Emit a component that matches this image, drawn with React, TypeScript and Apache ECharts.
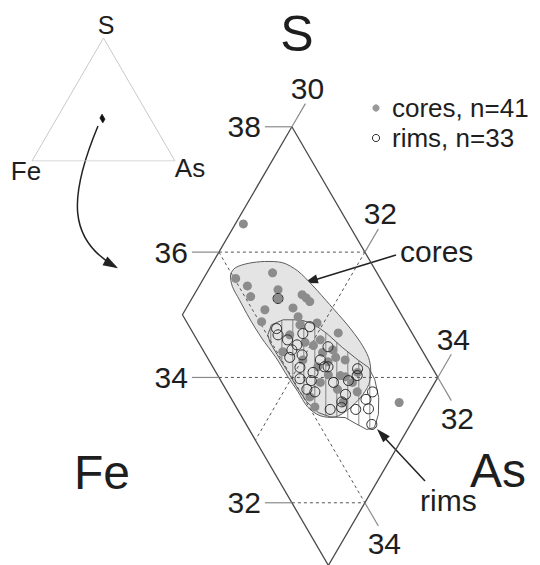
import React, { useEffect, useRef } from "react";
import * as echarts from "echarts";

// ---- Ternary data: [As, S] in at.% (Fe = 100 - As - S) ----
const cores: number[][] = [
  [30.11, 36.45], [30.9, 35.67], [30.44, 35.58], [30.66, 35.46], [31.11, 35.4], [30.79, 35.29],
  [31.18, 35.26], [31.48, 35.32], [31.56, 35.27], [31.64, 35.21], [31.46, 35.11], [31.6, 34.97],
  [31.14, 34.89], [31.91, 34.87], [32.28, 34.71], [32.09, 34.6], [31.9, 34.56], [32.04, 34.51],
  [31.67, 34.41], [32.22, 34.4], [32.01, 34.28], [32.37, 34.25], [32.44, 34.32], [32.27, 34.17],
  [32.65, 34.03], [32.73, 34.01], [32.86, 34.08], [32.43, 33.92], [32.87, 33.92], [33.01, 33.77],
  [32.4, 33.69], [32.9, 33.61], [32.55, 33.53], [33.67, 33.6], [31.63, 34.68], [32.34, 34.44],
  [32.48, 34.04], [31.09, 35.08], [31.69, 34.84], [32.59, 34.28], [32.72, 33.81],
];
const rims: number[][] = [
  [31.18, 35.26], [31.4, 34.78], [31.47, 34.68], [31.8, 34.7], [31.84, 34.81], [32.25, 34.49],
  [31.78, 34.44], [31.96, 34.36], [31.81, 34.32], [32.03, 34.16], [32.12, 33.98], [32.25, 34.08],
  [32.29, 33.95], [32.36, 34.17], [32.41, 34.17], [32.83, 34.14], [32.88, 34.03], [32.8, 33.95],
  [32.61, 33.92], [32.3, 33.81], [32.43, 33.77], [32.87, 33.73], [33.22, 33.77], [32.88, 33.61],
  [33.13, 33.49], [32.78, 33.49], [32.92, 33.52], [33.3, 33.5], [33.47, 33.25], [31.81, 34.52],
  [32.25, 34.28], [33.19, 33.65], [31.64, 34.6],
];
const coresOutline: number[][] = [
  [30.34, 35.64], [30.35, 35.75], [30.49, 35.82], [30.7, 35.85], [30.96, 35.83], [31.23, 35.7],
  [31.56, 35.46], [31.94, 35.16], [32.34, 34.84], [32.66, 34.56], [32.89, 34.32], [33.02, 34.12],
  [33.11, 33.89], [33.1, 33.68], [33.03, 33.49], [32.91, 33.37], [32.69, 33.39], [32.45, 33.53],
  [32.2, 33.77], [31.94, 34.01], [31.62, 34.32], [31.27, 34.63], [30.94, 34.95], [30.66, 35.24],
  [30.46, 35.45],
];
const rimsOutline: number[][] = [
  [31.33, 34.68], [31.3, 34.84], [31.42, 34.92], [31.65, 34.92], [31.86, 34.86], [32.13, 34.7],
  [32.45, 34.48], [32.78, 34.27], [32.97, 34.16], [33.15, 33.97], [33.35, 33.68], [33.48, 33.41],
  [33.53, 33.2], [33.44, 33.17], [33.25, 33.26], [33.05, 33.36], [32.84, 33.37], [32.64, 33.44],
  [32.4, 33.61], [32.14, 33.85], [31.9, 34.09], [31.62, 34.36], [31.42, 34.56],
];
// field shown: As 30-34, Fe 32-35
const diamond: number[][] = [[30, 38], [34, 34], [34, 31], [30, 35], [30, 38]];
const gridLines: number[][][] = [
  [[30, 36], [32, 36]],
  [[31, 34], [34, 34]],
  [[33, 32], [34, 32]],
  [[32, 36], [32, 33]],
  [[30, 36], [34, 32]],
];
const sTicks = [38, 36, 34, 32];
const asTicks = [30, 32, 34];
const feTicks = [32, 34];
const wholeTriangle: number[][] = [[0, 0], [100, 0], [0, 100], [0, 0]];

const SQ = Math.sqrt(3) / 2;
const toXY = (as: number, s: number) => [as + s / 2, s * SQ];
const FONT = "Liberation Sans, Arial, Helvetica, sans-serif";
const TXT = "#1e1e1e";
const TL = 0.37; // tick length (at.%)

function arrowHead(tx: number, ty: number, fx: number, fy: number, len: number, half: number) {
  const dx = tx - fx, dy = ty - fy;
  const L = Math.hypot(dx, dy);
  const ux = dx / L, uy = dy / L;
  const bx = tx - ux * len, by = ty - uy * len;
  return [[tx, ty], [bx - uy * half, by + ux * half], [bx + uy * half, by - ux * half]];
}

function text(str: string, x: number, y: number, size: number, align = "center") {
  return {
    type: "text", x, y, silent: true,
    style: {
      text: str, fontSize: size, fontFamily: FONT, fill: TXT,
      align, textAlign: align, verticalAlign: "middle", textVerticalAlign: "middle",
    },
  };
}

function lineSeries(pts: number[][], style: any, idx = 0, z = 2) {
  return {
    type: "line", data: pts.map((p) => toXY(p[0], p[1])), xAxisIndex: idx, yAxisIndex: idx,
    symbol: "none", silent: true, z, lineStyle: style, animation: false,
  };
}

export default function App() {
  const ref = useRef<HTMLDivElement>(null);
  useEffect(() => {
    if (!ref.current) return;
    const chart = echarts.init(ref.current, undefined, { renderer: "svg" });

    const blob = (outline: number[][], kind: "cores" | "rims") => ({
      type: "custom", coordinateSystem: "cartesian2d", xAxisIndex: 0, yAxisIndex: 0,
      silent: true, z: 1, data: [0],
      renderItem: (_p: any, api: any) => {
        const pts = outline.map(([a, s]) => api.coord(toXY(a, s)));
        const children: any[] = [];
        if (kind === "cores") {
          children.push({
            type: "polygon", shape: { points: pts, smooth: 0.3 },
            style: { fill: "#e4e4e4", stroke: "#5c5c5c", lineWidth: 1 },
          });
        } else {
          const xs = pts.map((p: number[]) => p[0]);
          const minX = Math.min(...xs), maxX = Math.max(...xs);
          for (let x = minX + 3; x < maxX; x += 11) {
            const ys: number[] = [];
            for (let i = 0; i < pts.length; i++) {
              const a = pts[i], b = pts[(i + 1) % pts.length];
              if ((a[0] <= x && b[0] > x) || (b[0] <= x && a[0] > x)) {
                ys.push(a[1] + ((x - a[0]) / (b[0] - a[0])) * (b[1] - a[1]));
              }
            }
            ys.sort((m, n) => m - n);
            for (let k = 0; k + 1 < ys.length; k += 2) {
              children.push({
                type: "line", shape: { x1: x, y1: ys[k], x2: x, y2: ys[k + 1] },
                style: { stroke: "#6a6a6a", lineWidth: 0.8 },
              });
            }
          }
          children.push({
            type: "polygon", shape: { points: pts },
            style: { fill: "none", stroke: "#5c5c5c", lineWidth: 1 },
          });
        }
        return { type: "group", children };
      },
    });

    const tickLabels: any[] = [];
    const tickSeries: any[] = [];
    const tickStyle = { color: "#8a8a8a", width: 1.2 };
    sTicks.forEach((s) => {
      const a0 = Math.max(30, 65 - s);
      tickSeries.push(lineSeries([[a0, s], [a0 - TL, s]], tickStyle));
      tickLabels.push({
        value: toXY(a0 - TL, s),
        label: { formatter: String(s), position: "left", distance: 4 },
      });
    });
    asTicks.forEach((a) => {
      const s0 = 68 - a;
      tickSeries.push(lineSeries([[a, s0], [a, s0 + TL]], tickStyle));
      tickLabels.push({
        value: toXY(a, s0 + TL),
        label: { formatter: String(a), position: "top", distance: 0, offset: [2, 0] },
      });
    });
    feTicks.forEach((f) => {
      const s0 = 66 - f;
      tickSeries.push(lineSeries([[34, s0], [34 + TL, s0 - TL]], tickStyle));
      tickLabels.push({
        value: toXY(34 + TL, s0 - TL),
        label: { formatter: String(f), position: "bottom", distance: 3, offset: [6, 0] },
      });
    });

    const coresArrow = { from: [396, 255], to: [304, 283] };
    const rimsArrow = { from: [425, 481], to: [377, 429] };
    const curve = { x1: 98, y1: 126, cpx1: 68, cpy1: 198, cpx2: 68, cpy2: 240, x2: 116, y2: 267 };

    const option: any = {
      animation: false,
      grid: [
        { left: 0, top: 0, width: 540, height: 565 },
        { left: 32, top: 38, width: 143, height: 123 },
      ],
      xAxis: [
        { type: "value", min: 45.0, max: 52.4, show: false, gridIndex: 0 },
        { type: "value", min: 0, max: 100, show: false, gridIndex: 1 },
      ],
      yAxis: [
        { type: "value", min: 26.853, max: 34.661, show: false, gridIndex: 0 },
        { type: "value", min: 0, max: 100 * SQ, show: false, gridIndex: 1 },
      ],
      series: [
        blob(coresOutline, "cores"),
        blob(rimsOutline, "rims"),
        ...gridLines.map((g) => lineSeries(g, { color: "#555", width: 1, type: [3, 3] })),
        lineSeries(diamond, { color: "#4a4a4a", width: 1.3 }),
        ...tickSeries,
        {
          type: "scatter", name: "cores", data: cores.map((p) => toXY(p[0], p[1])),
          symbolSize: 9, itemStyle: { color: "#8c8c8c", opacity: 1 }, silent: true, z: 3,
        },
        {
          type: "scatter", name: "rims", data: rims.map((p) => toXY(p[0], p[1])),
          symbolSize: 10,
          itemStyle: { color: "rgba(255,255,255,0)", borderColor: "#2a2a2a", borderWidth: 1, opacity: 1 },
          silent: true, z: 4,
        },
        {
          type: "scatter", data: tickLabels, symbolSize: 0, silent: true, z: 5,
          itemStyle: { opacity: 1 },
          label: { show: true, fontSize: 30, fontFamily: FONT, color: TXT, opacity: 1 },
        },
        lineSeries(wholeTriangle, { color: "#c9c9c9", width: 1 }, 1),
        {
          type: "custom", coordinateSystem: "cartesian2d", xAxisIndex: 1, yAxisIndex: 1,
          silent: true, z: 3, data: [0],
          renderItem: (_p: any, api: any) => ({
            type: "polygon",
            shape: { points: diamond.slice(0, 4).map(([a, s]) => api.coord(toXY(a, s))) },
            style: { fill: "#111", stroke: "#111", lineWidth: 0.8 },
          }),
        },
      ],
      graphic: [
        text("S", 297, 34, 50),
        text("Fe", 102, 472, 48),
        text("As", 470, 470, 48, "left"),
        text("S", 106, 25, 25),
        text("Fe", 26, 171, 26),
        text("As", 190, 168, 26),
        { type: "circle", shape: { cx: 376, cy: 108, r: 3.6 }, style: { fill: "#999" }, silent: true },
        { type: "circle", shape: { cx: 376, cy: 138, r: 3.6 }, style: { fill: "#fff", stroke: "#333", lineWidth: 1 }, silent: true },
        text("cores, n=41", 392, 108, 26, "left"),
        text("rims, n=33", 392, 138, 26, "left"),
        text("cores", 400, 251, 30, "left"),
        text("rims", 420, 500, 30, "left"),
        {
          type: "line", silent: true,
          shape: { x1: coresArrow.from[0], y1: coresArrow.from[1], x2: coresArrow.to[0] + 8, y2: coresArrow.to[1] - 2.3 },
          style: { stroke: "#222", lineWidth: 1.5 },
        },
        {
          type: "polygon", silent: true,
          shape: { points: arrowHead(coresArrow.to[0], coresArrow.to[1], coresArrow.from[0], coresArrow.from[1], 14, 4.5) },
          style: { fill: "#222" },
        },
        {
          type: "line", silent: true,
          shape: { x1: rimsArrow.from[0], y1: rimsArrow.from[1], x2: rimsArrow.to[0] + 5, y2: rimsArrow.to[1] + 6 },
          style: { stroke: "#222", lineWidth: 1.5 },
        },
        {
          type: "polygon", silent: true,
          shape: { points: arrowHead(rimsArrow.to[0], rimsArrow.to[1], rimsArrow.from[0], rimsArrow.from[1], 14, 4.5) },
          style: { fill: "#222" },
        },
        {
          type: "bezierCurve", silent: true, shape: curve,
          style: { stroke: "#222", lineWidth: 1.5, fill: "none" },
        },
        {
          type: "polygon", silent: true,
          shape: { points: arrowHead(curve.x2 + 2, curve.y2 + 1.2, curve.cpx2, curve.cpy2, 15, 5) },
          style: { fill: "#222" },
        },
      ],
    };
    chart.setOption(option);
    return () => chart.dispose();
  }, []);
  return (
    <div
      ref={ref}
      style={{ position: "fixed", left: 0, top: 0, width: 540, height: 565, background: "#fff" }}
    />
  );
}
